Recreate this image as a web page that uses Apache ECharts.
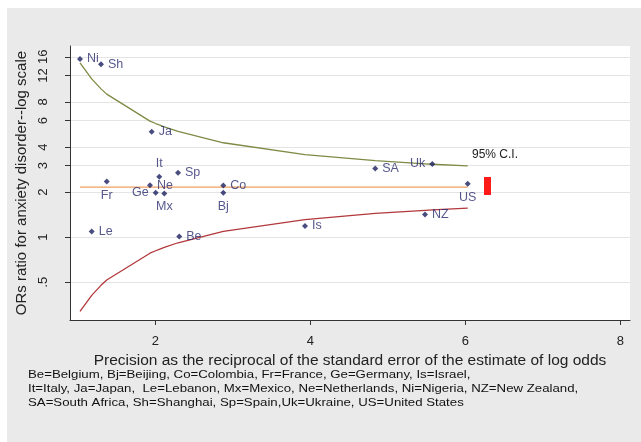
<!DOCTYPE html>
<html>
<head>
<meta charset="utf-8">
<script src="https://cdn.jsdelivr.net/npm/echarts@6/dist/echarts.min.js"></script>
<style>
  html, body { margin: 0; padding: 0; background: #ffffff; }
  #chart { width: 641px; height: 442px; }
</style>
</head>
<body>
<div id="chart"></div>
<script>
// Study codes, precision (1/SE of log odds) and odds ratios
const codes     = ['Ni', 'Le', 'Sh', 'Fr', 'Ne', 'Ja', 'Ge', 'It', 'Mx', 'Sp', 'Be', 'Co', 'Bj', 'Is', 'SA', 'NZ', 'Uk', 'US'];
const precision = [1.027, 1.178, 1.298, 1.372, 1.930, 1.952, 2.004, 2.050, 2.115, 2.292, 2.308, 2.876, 2.876, 3.930, 4.837, 5.479, 5.573, 6.030];
const oddsRatio = [15.5, 1.09, 14.3, 2.35, 2.22, 5.06, 1.98, 2.53, 1.96, 2.69, 1.01, 2.21, 1.98, 1.19, 2.88, 1.42, 3.08, 2.27];
const labelPos  = ['right', 'right', 'right', 'bottom', 'right', 'right', 'left', 'top', 'bottom', 'right', 'right', 'right', 'bottom', 'right', 'right', 'right', 'left', 'bottom'];

// Pooled estimate and 95% confidence limits along the precision range
const pooledOR  = 2.16;
const ciUpper   = [14.56, 11.40, 9.78, 9.02, 5.96, 5.90, 5.74, 5.62, 5.46, 5.08, 5.05, 4.27, 4.27, 3.56, 3.24, 3.09, 3.07, 2.99];
const ciLower   = [0.320, 0.409, 0.477, 0.518, 0.782, 0.791, 0.812, 0.830, 0.855, 0.918, 0.924, 1.093, 1.093, 1.312, 1.440, 1.510, 1.520, 1.561];

// Axis ticks
const xTicks = [2, 4, 6, 8];
const yTicks = [0.5, 1, 2, 3, 4, 6, 8, 12, 16];

const footnote = [
  'Be=Belgium, Bj=Beijing, Co=Colombia, Fr=France, Ge=Germany, Is=Israel,',
  'It=Italy, Ja=Japan,  Le=Lebanon, Mx=Mexico, Ne=Netherlands, Ni=Nigeria, NZ=New Zealand,',
  'SA=South Africa, Sh=Shanghai, Sp=Spain,Uk=Ukraine, US=United States'
];

const FONT = '"Liberation Sans", Arial, sans-serif';
const chart = echarts.init(document.getElementById('chart'), null, { renderer: 'canvas' });

const points = codes.map((c, i) => ({
  value: [precision[i], oddsRatio[i]],
  name: c,
  label: { position: labelPos[i] }
}));

chart.setOption({
  animation: false,
  backgroundColor: '#ffffff',
  graphic: [
    { type: 'rect', z: -10, shape: { x: 7, y: 8, width: 634, height: 434 }, style: { fill: '#eaeaea' } },
    { type: 'text', z: 100, x: 472, y: 155, style: { text: '95% C.I.', font: '12px ' + FONT, fill: '#222222', verticalAlign: 'middle' } },
    { type: 'rect', z: 100, shape: { x: 484, y: 177, width: 7, height: 18 }, style: { fill: '#ff1a1a' } },
    // wide-set footnote text
    ...footnote.map((t, i) => ({
      type: 'text', z: 100, x: 28, y: 375 + i * 14, scaleX: 1.26,
      style: { text: t, font: '10.5px ' + FONT, fill: '#111111', verticalAlign: 'middle' }
    }))
  ],
  grid: { left: 70, right: 11, top: 46, bottom: 122, containLabel: false, show: true, backgroundColor: '#ffffff', borderWidth: 0 },
  xAxis: {
    type: 'value',
    min: 0.898, max: 8.124,
    name: 'Precision as the reciprocal of the standard error of the estimate of log odds',
    nameLocation: 'middle', nameGap: 33,
    nameTextStyle: { fontFamily: FONT, fontSize: 15.5, color: '#222222' },
    axisLine: { show: true, onZero: false, lineStyle: { color: '#333333', width: 1 } },
    axisTick: { show: true, length: 5, customValues: xTicks, lineStyle: { color: '#333333' } },
    axisLabel: { customValues: xTicks, fontFamily: FONT, fontSize: 13, color: '#222222', margin: 15 },
    splitLine: { show: false }
  },
  yAxis: {
    type: 'log', logBase: 10,
    min: 0.28, max: 18.9,
    name: 'ORs ratio for anxiety disorder--log scale',
    nameLocation: 'middle', nameGap: 35,
    nameTextStyle: { fontFamily: FONT, fontSize: 15, color: '#222222' },
    axisLine: { show: true, onZero: false, lineStyle: { color: '#333333', width: 1 } },
    axisTick: { show: true, length: 5, customValues: yTicks, lineStyle: { color: '#333333' } },
    axisLabel: {
      customValues: yTicks, rotate: 90, fontFamily: FONT, fontSize: 13, color: '#222222', margin: 20,
      formatter: v => (v < 1 ? String(+v.toFixed(2)).replace(/^0/, '') : String(Math.round(v)))
    },
    splitLine: { show: true, lineStyle: { color: '#e4e4e4', width: 1 } }
  },
  series: [
    {
      type: 'line', data: precision.map((p, i) => [p, ciUpper[i]]),
      symbol: 'none', lineStyle: { color: '#7d8b45', width: 1.3 }, z: 2
    },
    {
      type: 'line', data: precision.map((p, i) => [p, ciLower[i]]),
      symbol: 'none', lineStyle: { color: '#b2383c', width: 1.3 }, z: 2
    },
    {
      type: 'line', data: [[precision[0], pooledOR], [precision[precision.length - 1], pooledOR]],
      symbol: 'none', lineStyle: { color: '#f0a060', width: 1.3 }, z: 2
    },
    {
      type: 'scatter', data: points, symbol: 'diamond', symbolSize: 6,
      itemStyle: { color: '#1c1f5e' }, z: 3,
      label: {
        show: true, formatter: p => p.name, distance: 4,
        fontFamily: FONT, fontSize: 12.5, color: '#2b2d6e'
      }
    }
  ]
});
</script>
</body>
</html>
